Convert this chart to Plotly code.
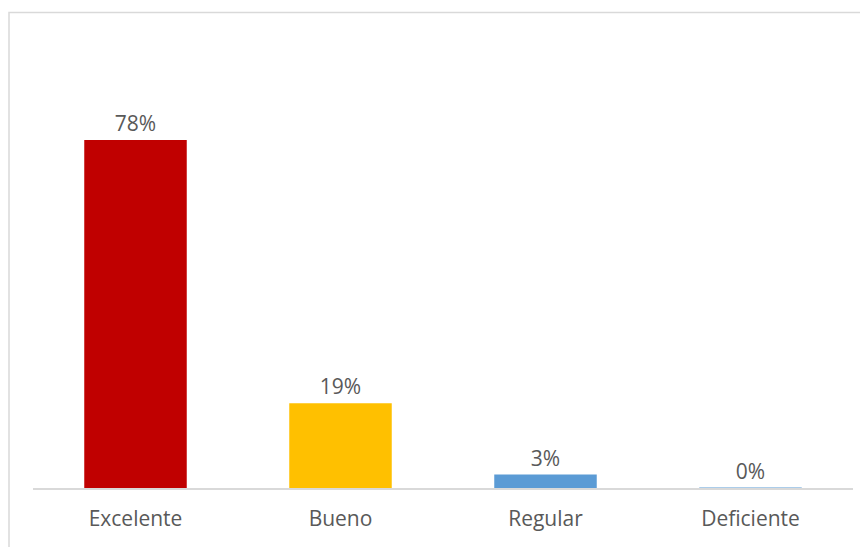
import plotly.graph_objects as go

categories = ["Excelente", "Bueno", "Regular", "Deficiente"]
values = [0.78, 0.19, 0.03, 0.0]
labels = ["78%", "19%", "3%", "0%"]
colors = ["#C00000", "#FFC000", "#5B9BD5", "#5B9BD5"]

W, H = 868, 547
off = 8  # page body margin offset
ml, mr, mt, mb = 33 - off, 15 + off, 42 - off, 59 + off
pw = W - ml - mr
ph = H - mt - mb

fig = go.Figure(go.Bar(
    x=categories, y=values,
    marker=dict(color=colors, line=dict(color=colors, width=[0, 0, 0, 1.2])),
    text=labels, textposition="outside", cliponaxis=False,
    textfont=dict(family="Open Sans", size=21, color="#595959"),
    hoverinfo="skip",
))

fig.update_layout(
    width=W, height=H,
    margin=dict(l=ml, r=mr, t=mt, b=mb),
    paper_bgcolor="white", plot_bgcolor="white",
    bargap=0.5, showlegend=False,
    font=dict(family="Open Sans", color="#595959"),
    xaxis=dict(showline=True, linecolor="#D9D9D9", linewidth=1.5,
               ticks="", tickfont=dict(family="Open Sans", size=21, color="#595959"),
               ticklabelstandoff=11, showgrid=False, zeroline=False),
    yaxis=dict(range=[0, 1], visible=False, showgrid=False, zeroline=False),
    shapes=[dict(type="rect", xref="paper", yref="paper",
                 x0=(1.0 - ml) / pw, x1=1.3,
                 y0=-0.4, y1=(H - mb - (12.5 - off)) / ph,
                 line=dict(color="#D9D9D9", width=1.5), layer="below")],
)

fig.write_html("out.html")
